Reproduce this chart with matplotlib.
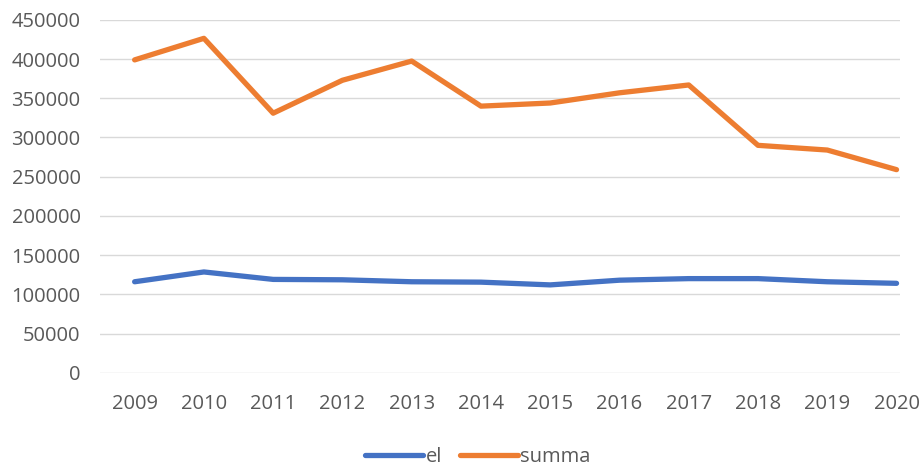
import matplotlib.pyplot as plt

# Data
years = ["2009", "2010", "2011", "2012", "2013", "2014", "2015", "2016", "2017", "2018", "2019", "2020"]
el = [116000, 128500, 119000, 118500, 116000, 115500, 112000, 118000, 120000, 120000, 116000, 114000]
summa = [399000, 426500, 331000, 373000, 397500, 340000, 344000, 357000, 367000, 290000, 284000, 259000]

plt.rcParams['font.family'] = ['Open Sans', 'DejaVu Sans']

fig = plt.figure(figsize=(9.19, 4.69), dpi=100)
ax = fig.add_axes([100 / 919, 1 - 372.7 / 469, 800 / 919, (372.7 - 19.9) / 469])

x = range(len(years))
ax.plot(x, el, color="#4472C4", lw=3.8, solid_capstyle="round", label="el")
ax.plot(x, summa, color="#ED7D31", lw=3.8, solid_capstyle="round", label="summa")

ax.set_ylim(0, 450000)
ax.set_yticks(range(0, 450001, 50000))
ax.set_xlim(-0.5, 11.05)
ax.set_xticks(list(x))
ax.set_xticklabels(years)

ax.grid(axis="y", color="#D9D9D9", lw=1)
ax.set_axisbelow(True)
for s in ax.spines.values():
    s.set_visible(False)
ax.tick_params(length=0, labelsize=14.5, labelcolor="#595959")
ax.tick_params(axis="x", pad=15)
ax.tick_params(axis="y", pad=14)

fig.legend(loc="lower center", bbox_to_anchor=(0.52, -0.035), ncol=2, frameon=False,
           fontsize=14.5, labelcolor="#595959", handlelength=2.9, handletextpad=0.1,
           columnspacing=0.9)

fig.savefig("out.png", dpi=100, facecolor="white")
